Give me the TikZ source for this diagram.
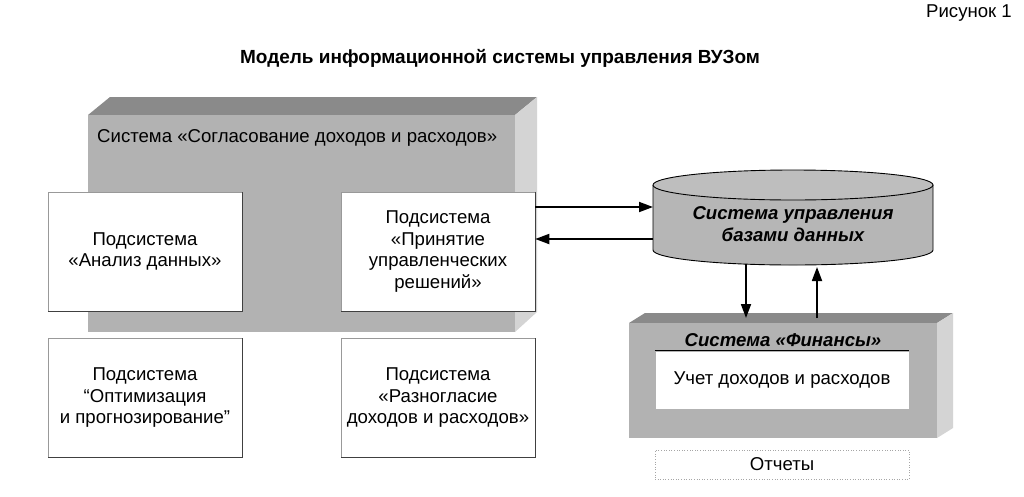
\documentclass[tikz,border=0pt]{standalone}
\usepackage{fontspec}
\setmainfont{Liberation Sans}
\usetikzlibrary{arrows.meta}
\definecolor{topgray}{HTML}{8A8A8A}
\definecolor{frontgray}{HTML}{B2B2B2}
\definecolor{sidegray}{HTML}{D4D4D4}
\definecolor{cylgray}{HTML}{B6B6B6}
\definecolor{cyltop}{HTML}{BEBEBE}
\begin{document}
\begin{tikzpicture}[x=1pt,y=-1pt,
  txt/.style={font=\fontsize{18.6}{21.5}\selectfont, align=center, inner sep=0pt},
  wbox/.style={txt, draw=black!40, line width=0.5pt, fill=white, minimum width=194pt, minimum height=119pt},
  face/.style={inner sep=0pt, outer sep=0pt},
  arr/.style={line width=1.8pt, -{Triangle[length=14pt,width=10pt]}},
  shadowedge/.style={draw=black!75, line width=1pt}
]
\useasboundingbox[fill=white] (0,0) rectangle (1024,496);

% header
\node[txt, anchor=east] (fig) at (1012,13) {Рисунок 1};
\node[txt, font=\fontsize{19}{21.5}\selectfont\bfseries] (title) at (500,58) {Модель информационной системы управления ВУЗом};

% big 3D box
\fill[topgray] (88,115) -- (110,97) -- (537,97) -- (515,115) -- cycle;
\fill[sidegray] (515,115) -- (537,97) -- (537,312) -- (515,332) -- cycle;
\node[face, fill=frontgray, minimum width=427pt, minimum height=217pt] (sogl) at (301.5,223.5) {};
\node[txt, anchor=west] (sogllab) at (97,138) {Система «Согласование доходов и расходов»};

% subsystem boxes
\node[wbox] (anal) at (145,251.5) {Подсистема\\«Анализ данных»};
\node[wbox] (prin) at (438,251.5) {Подсистема\\«Принятие\\управленческих\\решений»};
\node[wbox] (opt) at (145,398) {Подсистема\\“Оптимизация\\и прогнозирование”};
\node[wbox] (razn) at (438,398) {Подсистема\\«Разногласие\\доходов и расходов»};
\foreach \b in {anal,prin,opt,razn}{
  \draw[shadowedge] (\b.north east) -- (\b.south east) -- (\b.south west);
}

% database cylinder
\fill[cylgray] (653,185) -- (653,250) arc[start angle=180, end angle=360, x radius=140pt, y radius=15pt]
  -- (933,185) arc[start angle=0, end angle=-180, x radius=140pt, y radius=15pt] -- cycle;
\draw[line width=0.9pt] (653,185) -- (653,250) arc[start angle=180, end angle=360, x radius=140pt, y radius=15pt] -- (933,185);
\filldraw[fill=cyltop, line width=0.9pt] (793,185) ellipse[x radius=140pt, y radius=15pt];
\node[face, minimum width=280pt, minimum height=95pt] (cyl) at (793,217.5) {};
\node[txt, font=\fontsize{18.6}{22}\selectfont\bfseries\itshape] (cyllab) at (793,224) {Система управления\\базами данных};

% finance 3D box
\fill[topgray] (629,323) -- (645,313) -- (953,313) -- (937,323) -- cycle;
\fill[sidegray] (937,323) -- (953,313) -- (953,428) -- (937,438) -- cycle;
\node[face, fill=frontgray, minimum width=308pt, minimum height=115pt] (fin) at (783,380.5) {};
\node[txt, font=\fontsize{18.6}{21.5}\selectfont\bfseries\itshape] (finlab) at (783,340) {Система «Финансы»};
\node[txt, fill=white, draw=black!30, line width=0.5pt, minimum width=254pt, minimum height=58pt] (uchet) at (782,380) {Учет доходов и расходов};
\draw[line width=1pt] (uchet.north west) -- (uchet.north east);

% reports
\node[txt, draw=black!35, dotted, line width=0.6pt, minimum width=254pt, minimum height=29pt] (otch) at (782,464.5) {\phantom{Х}};
\node[txt] (otchlab) at (otch.center) {Отчеты};

% connectors
\draw[arr] ([yshift=44.5pt]prin.east) -- ([yshift=44.5pt]prin.east -| cyl.west);
\draw[arr] ([yshift=12.5pt]prin.east -| cyl.west) -- ([yshift=12.5pt]prin.east);
\draw[arr] ([xshift=-47pt,yshift=1pt]cyl.south) -- ([xshift=-37pt,yshift=5pt]fin.north);
\draw[arr] ([xshift=34pt,yshift=5pt]fin.north) -- ([xshift=24pt,yshift=-2pt]cyl.south);
\end{tikzpicture}
\end{document}
